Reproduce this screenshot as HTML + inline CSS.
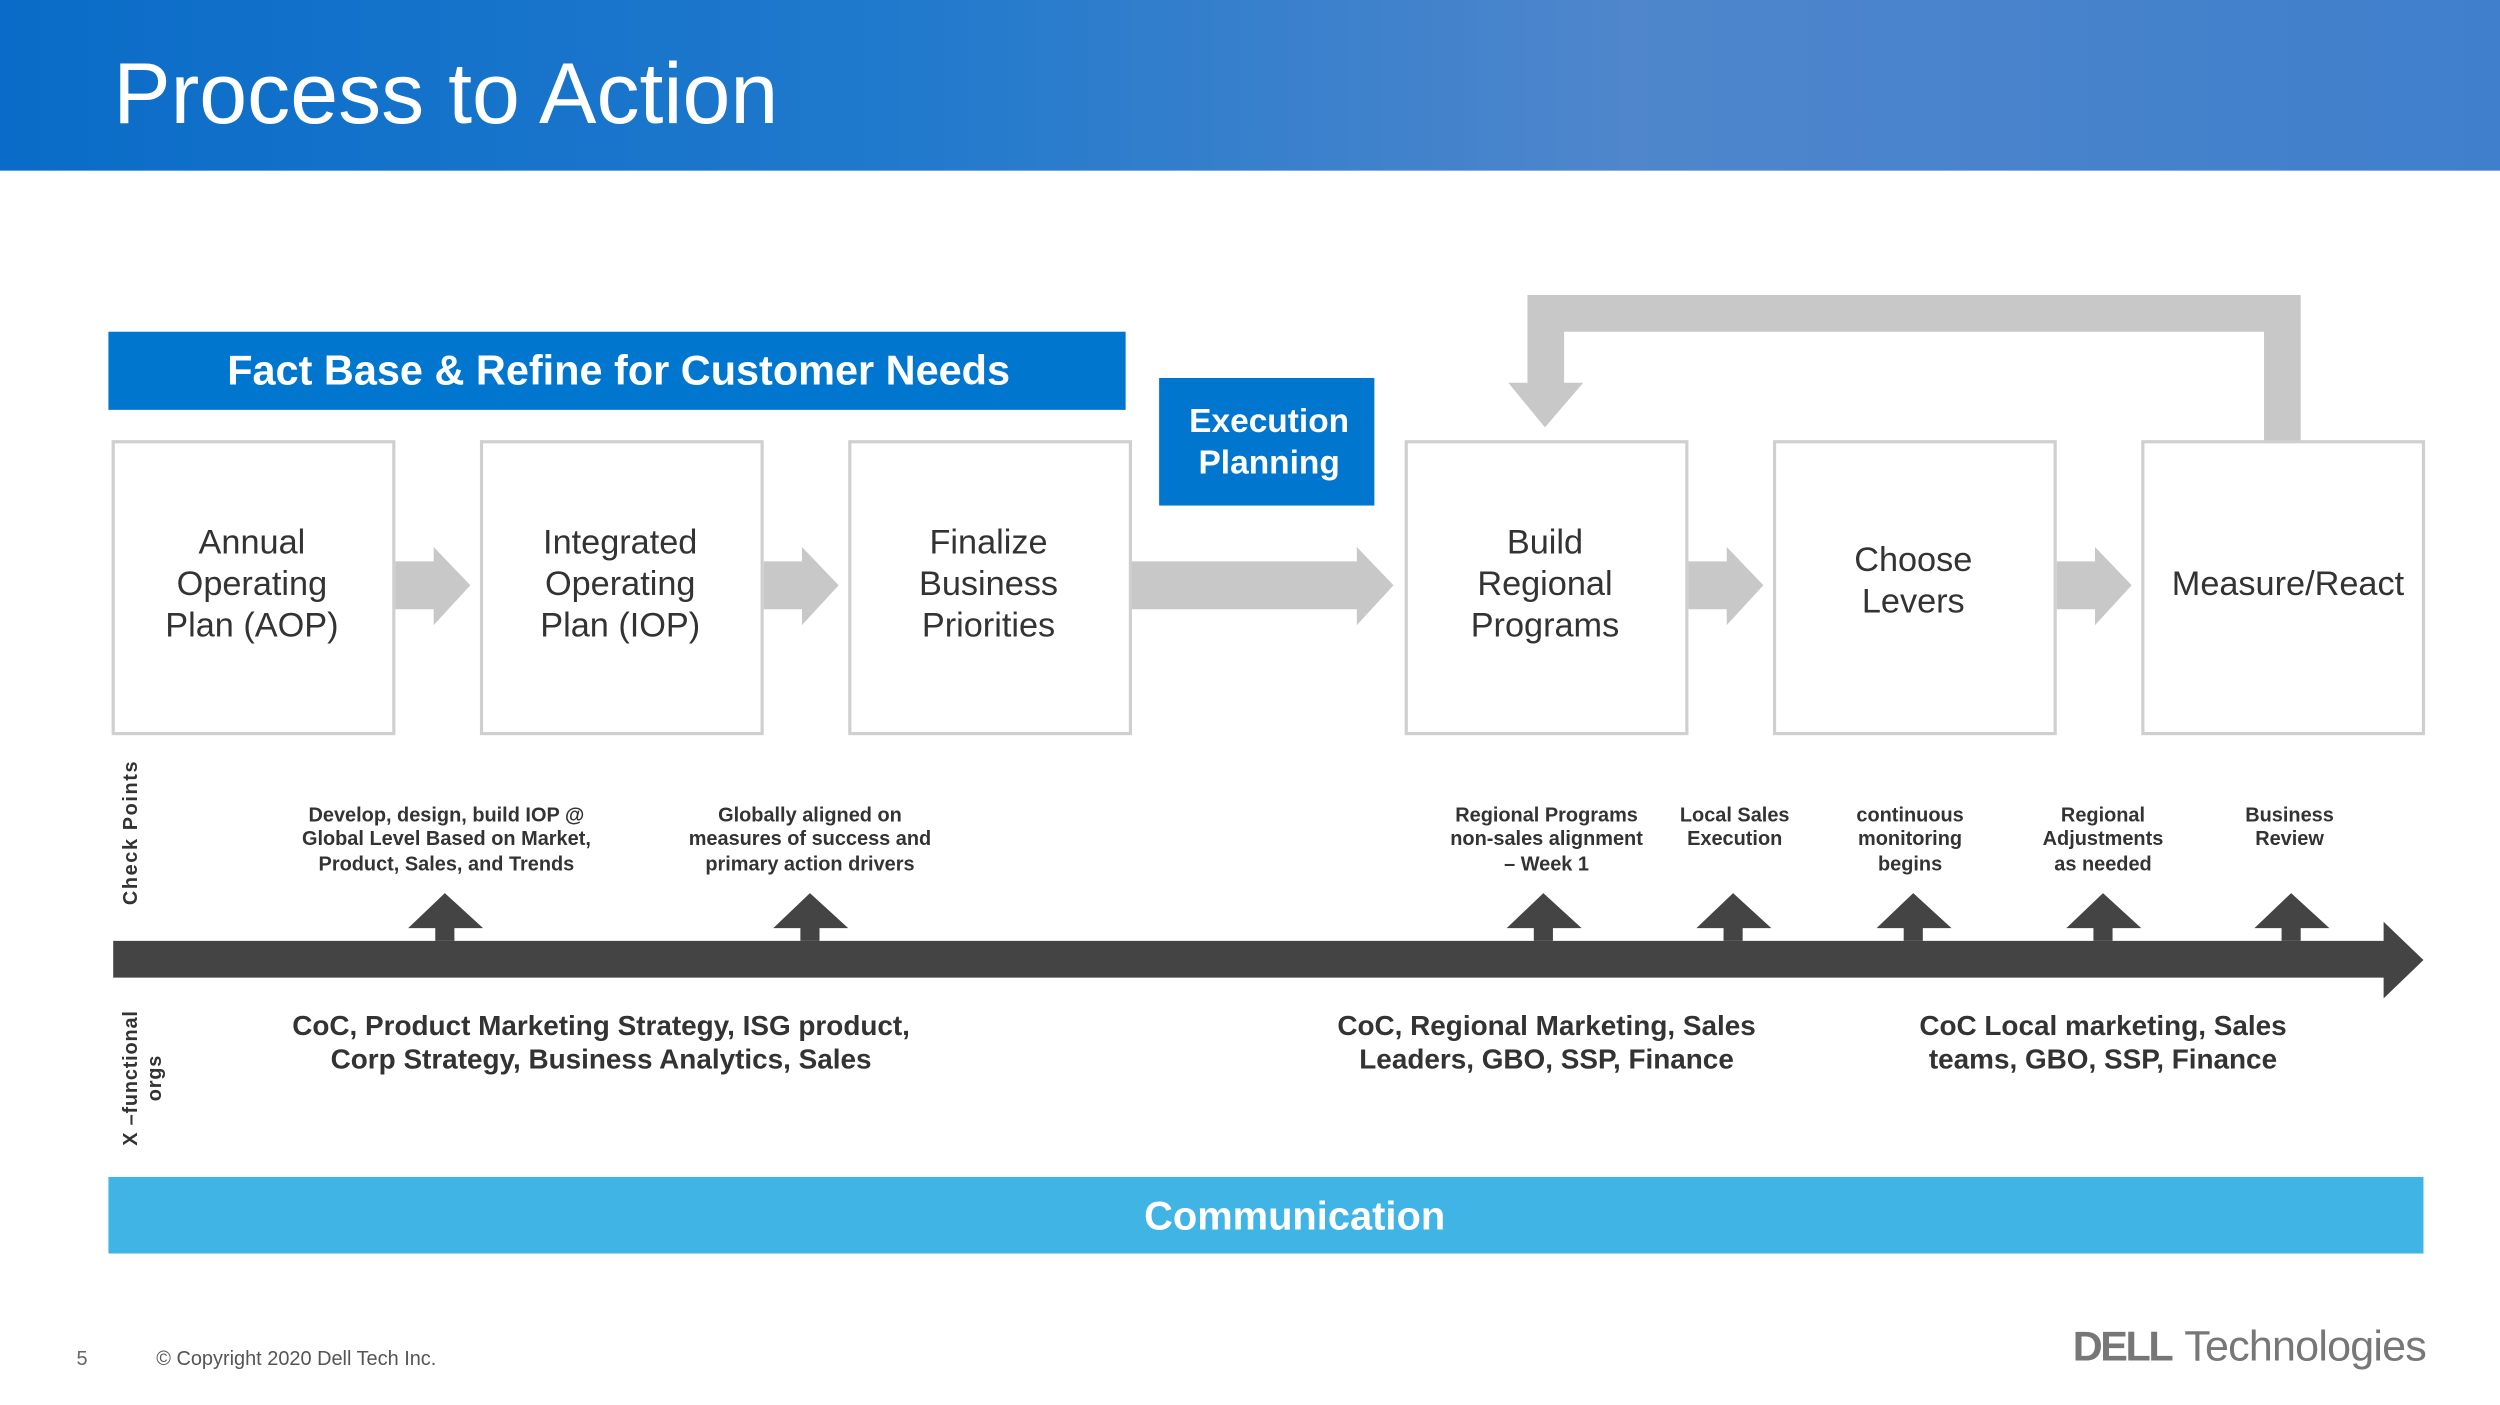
<!DOCTYPE html>
<html><head><meta charset="utf-8"><style>
html,body{margin:0;padding:0;background:#fff;width:2500px;height:1405px;overflow:hidden}
svg{display:block}
text{font-family:"Liberation Sans",Arial,sans-serif}
</style></head><body>
<svg width="2500" height="1405" viewBox="0 0 1568 881" preserveAspectRatio="none" xmlns="http://www.w3.org/2000/svg">
<defs>
<linearGradient id="hg" x1="0" y1="0" x2="1" y2="0">
<stop offset="0" stop-color="#0a6cc8"/><stop offset="0.35" stop-color="#1f79cc"/>
<stop offset="0.65" stop-color="#4f86cc"/><stop offset="1" stop-color="#3f7fcc"/>
</linearGradient>
</defs>
<rect x="0" y="0" width="1568" height="107" fill="url(#hg)"/>
<text x="71" y="77" font-size="54" fill="#fff">Process to Action</text>

<rect x="68" y="208" width="638" height="49" fill="#0076ce"/>
<text x="388" y="241" font-size="26" font-weight="bold" fill="#fff" text-anchor="middle">Fact Base &amp; Refine for Customer Needs</text>
<rect x="727" y="237" width="135" height="80" fill="#0076ce"/>
<text x="796" y="271" font-size="21" font-weight="bold" fill="#fff" text-anchor="middle">Execution</text>
<text x="796" y="297" font-size="21" font-weight="bold" fill="#fff" text-anchor="middle">Planning</text>

<path d="M1420 277 V208 H981 V240 H993 L969 268 L946 240 H958 V185 H1443 V277 Z" fill="#c8c8c8"/>

<g fill="#c8c8c8">
<path d="M248 352 H272 V343 L295 367 L272 392 V382 H248 Z"/>
<path d="M479 352 H503 V343 L526 367 L503 392 V382 H479 Z"/>
<path d="M710 352 H851 V343 L874 367 L851 392 V382 H710 Z"/>
<path d="M1059 352 H1083 V343 L1106 367 L1083 392 V382 H1059 Z"/>
<path d="M1290 352 H1314 V343 L1337 367 L1314 392 V382 H1290 Z"/>
</g>

<g fill="#fff" stroke="#cfcfcf" stroke-width="2">
<rect x="71" y="277" width="176" height="183"/>
<rect x="302" y="277" width="176" height="183"/>
<rect x="533" y="277" width="176" height="183"/>
<rect x="882" y="277" width="176" height="183"/>
<rect x="1113" y="277" width="176" height="183"/>
<rect x="1344" y="277" width="176" height="183"/>
</g>
<g font-size="21.5" fill="#333" text-anchor="middle">
<text x="158" y="347">Annual</text><text x="158" y="373">Operating</text><text x="158" y="399">Plan (AOP)</text>
<text x="389" y="347">Integrated</text><text x="389" y="373">Operating</text><text x="389" y="399">Plan (IOP)</text>
<text x="620" y="347">Finalize</text><text x="620" y="373">Business</text><text x="620" y="399">Priorities</text>
<text x="969" y="347">Build</text><text x="969" y="373">Regional</text><text x="969" y="399">Programs</text>
<text x="1200" y="358">Choose</text><text x="1200" y="384">Levers</text>
<text x="1435" y="373">Measure/React</text>
</g>

<path d="M71 590 H1495 V578 L1520 602 L1495 626 V613 H71 Z" fill="#444"/>
<g fill="#444">
<path d="M273 590 V582 H256 L279 560 L303 582 H285 V590 Z"/>
<path d="M502 590 V582 H485 L508 560 L532 582 H514 V590 Z"/>
<path d="M962 590 V582 H945 L968 560 L992 582 H974 V590 Z"/>
<path d="M1081 590 V582 H1064 L1087 560 L1111 582 H1093 V590 Z"/>
<path d="M1194 590 V582 H1177 L1200 560 L1224 582 H1206 V590 Z"/>
<path d="M1313 590 V582 H1296 L1319 560 L1343 582 H1325 V590 Z"/>
<path d="M1431 590 V582 H1414 L1437 560 L1461 582 H1443 V590 Z"/>
</g>

<g font-size="12.5" font-weight="bold" fill="#333" text-anchor="middle">
<text x="280" y="515">Develop, design, build IOP @</text>
<text x="280" y="530">Global Level Based on Market,</text>
<text x="280" y="546">Product, Sales, and Trends</text>
<text x="508" y="515">Globally aligned on</text>
<text x="508" y="530">measures of success and</text>
<text x="508" y="546">primary action drivers</text>
<text x="970" y="515">Regional Programs</text>
<text x="970" y="530">non-sales alignment</text>
<text x="970" y="546">– Week 1</text>
<text x="1088" y="515">Local Sales</text>
<text x="1088" y="530">Execution</text>
<text x="1198" y="515">continuous</text>
<text x="1198" y="530">monitoring</text>
<text x="1198" y="546">begins</text>
<text x="1319" y="515">Regional</text>
<text x="1319" y="530">Adjustments</text>
<text x="1319" y="546">as needed</text>
<text x="1436" y="515">Business</text>
<text x="1436" y="530">Review</text>
</g>

<text transform="translate(86 522) rotate(-90)" font-size="12.5" font-weight="bold" fill="#333" text-anchor="middle" letter-spacing="1">Check  Points</text>
<text transform="translate(86 676) rotate(-90)" font-size="12.5" font-weight="bold" fill="#333" text-anchor="middle" letter-spacing="0.5">X –functional</text>
<text transform="translate(101 676) rotate(-90)" font-size="12.5" font-weight="bold" fill="#333" text-anchor="middle" letter-spacing="0.5">orgs</text>

<g font-size="17.5" font-weight="bold" fill="#333" text-anchor="middle">
<text x="377" y="649">CoC, Product Marketing Strategy, ISG product,</text>
<text x="377" y="670">Corp Strategy,  Business Analytics, Sales</text>
<text x="970" y="649">CoC, Regional Marketing, Sales</text>
<text x="970" y="670">Leaders, GBO, SSP, Finance</text>
<text x="1319" y="649">CoC Local marketing, Sales</text>
<text x="1319" y="670">teams, GBO, SSP, Finance</text>
</g>

<rect x="68" y="738" width="1452" height="48" fill="#41b4e6"/>
<text x="812" y="771" font-size="25" font-weight="bold" fill="#fff" text-anchor="middle">Communication</text>

<text x="48" y="856" font-size="12.5" fill="#666">5</text>
<text x="98" y="856" font-size="12.5" fill="#555">© Copyright 2020 Dell Tech Inc.</text>
<text x="1300" y="853" font-size="26" font-weight="bold" fill="#777" letter-spacing="-1.5">DELL</text>
<text x="1370" y="853" font-size="27" fill="#777" letter-spacing="-0.5">Technologies</text>
</svg>
</body></html>
